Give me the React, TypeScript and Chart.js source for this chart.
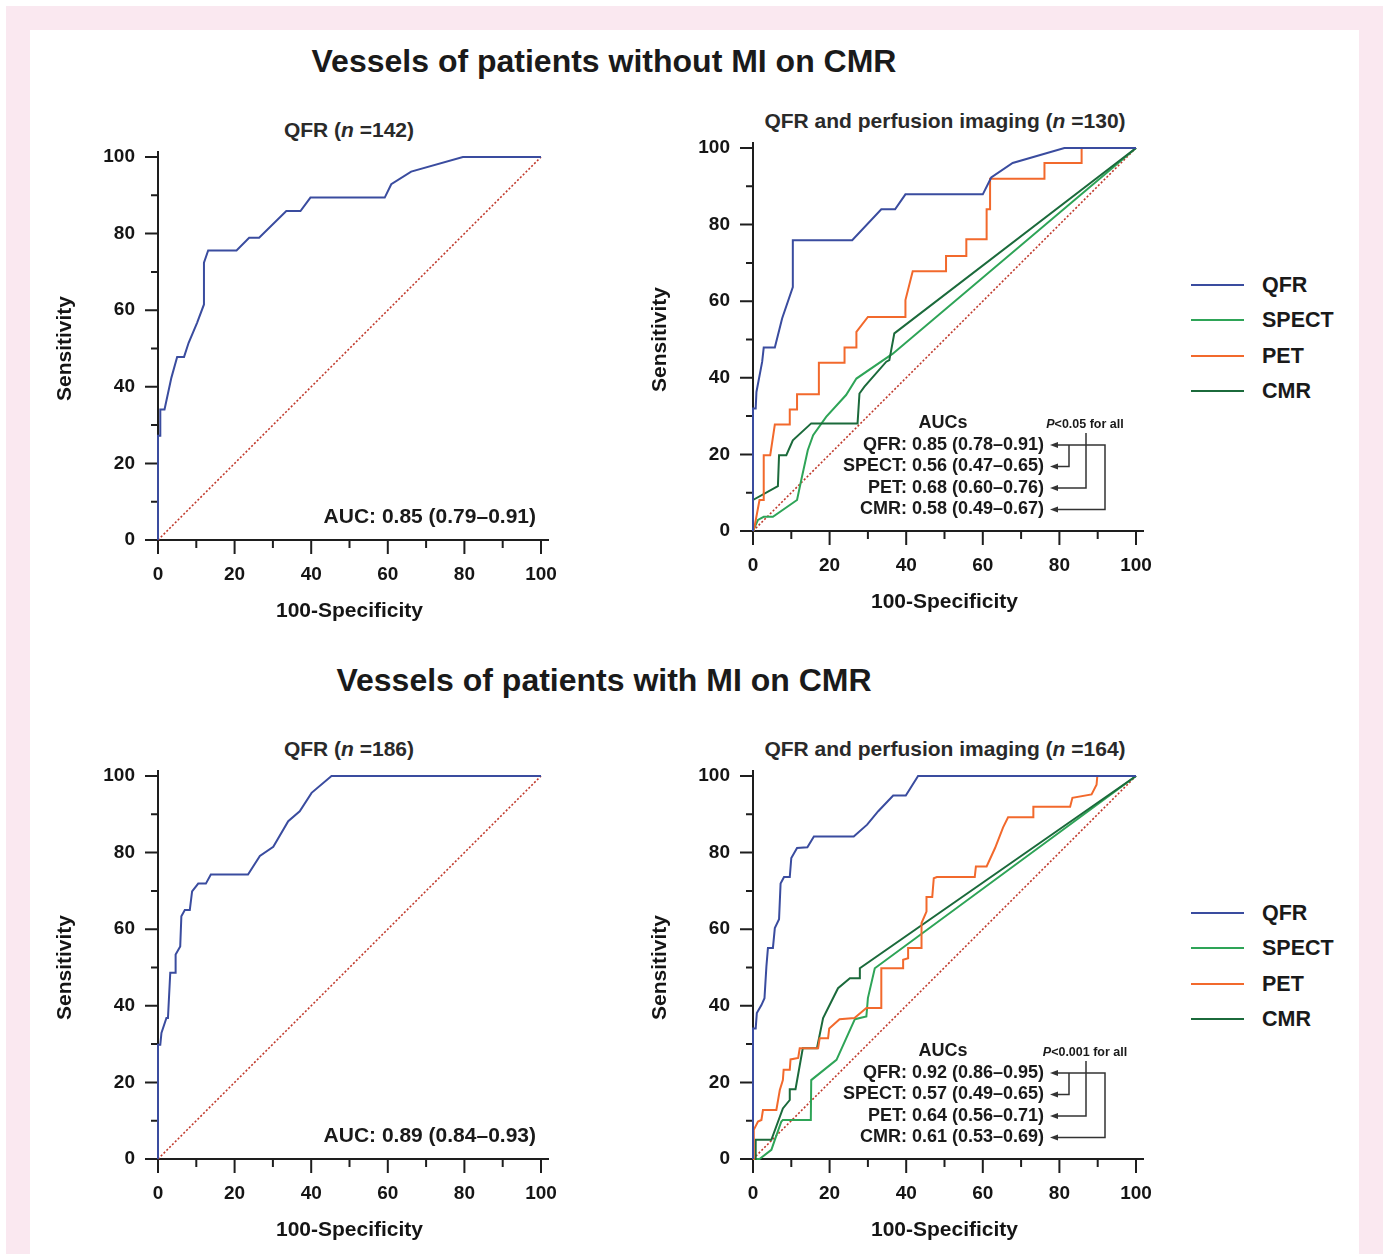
import React, { useEffect, useRef } from 'react';
import { Chart, registerables } from 'chart.js';

Chart.register(...registerables);

const FONT = '"Liberation Sans", Arial, Helvetica, sans-serif';

// ---------- data ----------
const tickValues = [0, 20, 40, 60, 80, 100];
const minorTickValues = [10, 30, 50, 70, 90];
const diagX = [0, 100];
const diagY = [0, 100];

// Panel A: without MI, QFR (n=142)
const qfrA_x = [0, 0, 0.6, 0.6, 1.7, 3.5, 5, 6.8, 8, 10.2, 12, 12, 13.1, 20.5, 23.8, 26.4, 33.5, 37.2, 39.8, 59.2, 60.9, 66.1, 79.6, 100];
const qfrA_y = [0, 27.2, 27.2, 34.1, 34.1, 42.4, 47.8, 47.8, 51.5, 56.7, 61.5, 72.4, 75.6, 75.6, 78.9, 78.9, 85.9, 85.9, 89.4, 89.4, 92.9, 96.2, 100, 100];

// Panel B: without MI, QFR and perfusion imaging (n=130)
const qfrB_x = [0, 0, 0.7, 0.9, 2.4, 2.8, 5.7, 7.6, 10.4, 10.4, 25.9, 33.5, 37.1, 39.8, 60, 62.2, 67.8, 81.3, 100];
const qfrB_y = [0, 32, 32, 36.3, 44.2, 47.9, 47.9, 55.5, 63.7, 75.9, 75.9, 84, 84, 87.9, 87.9, 92.3, 96.1, 100, 100];
const spectB_x = [0, 1.3, 2.8, 5.2, 11.5, 12.6, 14.3, 15.7, 19.1, 24.3, 27, 36.5, 100];
const spectB_y = [0, 2.9, 3.7, 3.7, 8.1, 13.3, 21.1, 25, 29.8, 35.5, 39.8, 46.3, 100];
const petB_x = [0, 0.4, 1.7, 2.8, 2.8, 4.5, 5.7, 9.6, 9.6, 11.5, 11.5, 17.2, 17.2, 23.9, 23.9, 27, 27, 30, 39.8, 39.8, 41.7, 50.4, 50.4, 55.7, 55.7, 61, 61, 61.9, 61.9, 76.1, 76.1, 85.8, 85.8, 100];
const petB_y = [0, 1.1, 8.1, 8.1, 19.8, 19.8, 27.8, 27.8, 31.7, 31.7, 35.7, 35.7, 43.9, 43.9, 47.9, 47.9, 52, 55.9, 55.9, 60.3, 67.8, 67.8, 71.8, 71.8, 76.2, 76.2, 84, 84, 92, 92, 96.1, 96.1, 100, 100];
const cmrB_x = [0, 0, 6.5, 6.8, 8.7, 10.4, 15.2, 27.3, 27.8, 29.1, 34.8, 35.6, 36.9, 100];
const cmrB_y = [0, 8.1, 11.7, 19.8, 19.8, 23.7, 28.1, 28.1, 35.9, 37.7, 44.2, 44.6, 51.6, 100];

// Panel C: with MI, QFR (n=186)
const qfrC_x = [0, 0, 0.6, 0.9, 2.2, 2.6, 3.2, 4.5, 4.6, 5.8, 6.1, 7, 8.3, 8.9, 10.5, 12.5, 13.8, 23.5, 26.6, 30.1, 34, 37, 40.1, 45.3, 100];
const qfrC_y = [0, 29.8, 29.8, 32.9, 36.8, 36.8, 48.6, 48.6, 53.4, 55.5, 63.4, 65, 65, 69.9, 71.9, 71.9, 74.3, 74.3, 79.1, 81.5, 88.2, 90.8, 95.6, 100, 100];

// Panel D: with MI, QFR and perfusion imaging (n=164)
const qfrD_x = [0, 0, 0.7, 1, 2.2, 3, 3.5, 3.9, 5.2, 5.7, 6.8, 7.2, 8.1, 9.6, 10, 11.5, 14.2, 15.9, 26.3, 29.8, 32.7, 36.6, 39.9, 43.1, 100];
const qfrD_y = [0, 34.1, 34.1, 38.1, 40.2, 42, 50.3, 55.1, 55.1, 60.3, 62.6, 71.9, 73.6, 73.6, 78.6, 81.2, 81.4, 84.2, 84.2, 87.3, 90.8, 94.9, 94.9, 100, 100];
const spectD_x = [0, 1.7, 4.8, 5.7, 7.4, 7.8, 15.1, 15.2, 21.8, 26.6, 29.6, 30, 31.8, 100];
const spectD_y = [0, 0, 2.4, 5, 9.8, 10.2, 10.2, 20.6, 25.9, 36.5, 37.2, 42, 49.8, 100];
const petD_x = [0, 0.2, 1.3, 2.2, 2.6, 6.1, 7, 7.8, 8, 9.6, 9.8, 11.8, 12.2, 17, 17.4, 19.6, 19.9, 22.6, 26.5, 29.6, 33.5, 33.5, 39.2, 39.2, 40.5, 40.5, 44, 44, 45.3, 45.3, 46.8, 47.2, 48, 57.9, 58.2, 61, 63.2, 65.3, 66.6, 73.2, 73.2, 82.8, 83.4, 88.4, 89.7, 89.9, 100];
const petD_y = [0, 7.6, 9.8, 10.2, 12.8, 12.8, 18, 20.6, 23.3, 23.3, 26, 26.4, 28.9, 28.9, 31.5, 31.5, 34.1, 36.5, 36.8, 39.4, 39.4, 49.8, 49.8, 52, 52.4, 55.1, 55.1, 61.6, 64.6, 68.4, 68.4, 73.3, 73.6, 73.6, 76.4, 76.4, 81.2, 86.6, 89.2, 89.2, 92, 92, 94.3, 95.2, 97.7, 100, 100];
const cmrD_x = [0, 0.7, 0.7, 4.8, 7.8, 9.6, 9.6, 11.1, 13, 16.7, 18.3, 22.2, 25.3, 27.7, 27.9, 100];
const cmrD_y = [0, 0, 5, 5, 13.2, 15.4, 18.2, 18.2, 28.9, 28.9, 36.8, 44.6, 47.2, 47.2, 49.8, 100];

const aucA = 'AUC: 0.85 (0.79–0.91)';
const aucC = 'AUC: 0.89 (0.84–0.93)';
const aucRowsB = ['QFR: 0.85 (0.78–0.91)', 'SPECT: 0.56 (0.47–0.65)', 'PET: 0.68 (0.60–0.76)', 'CMR: 0.58 (0.49–0.67)'];
const aucRowsD = ['QFR: 0.92 (0.86–0.95)', 'SPECT: 0.57 (0.49–0.65)', 'PET: 0.64 (0.56–0.71)', 'CMR: 0.61 (0.53–0.69)'];
const pTextB = '<0.05 for all';
const pTextD = '<0.001 for all';

const legendLabels = ['QFR', 'SPECT', 'PET', 'CMR'];
const COLORS = { QFR: '#3a4c9f', SPECT: '#2ea457', PET: '#f2692c', CMR: '#1b6a3b', diag: '#c0392b' };

// ---------- helpers ----------
const pts = (xs: number[], ys: number[]) => xs.map((x, i) => ({ x, y: ys[i] }));

const curve = (label: string, xs: number[], ys: number[]) => ({
  label,
  data: pts(xs, ys),
  showLine: true,
  borderColor: (COLORS as any)[label],
  borderWidth: 2,
  pointRadius: 0,
  tension: 0,
  fill: false,
  clip: false,
});

const diagonal = () => ({
  label: 'ref',
  data: pts(diagX, diagY),
  showLine: true,
  borderColor: COLORS.diag,
  borderWidth: 1.6,
  borderDash: [2, 2],
  pointRadius: 0,
  tension: 0,
  fill: false,
  clip: false,
});

const axesPlugin = {
  id: 'rocAxes',
  beforeDatasetsDraw(chart: any) {
    const { ctx, chartArea: a, scales } = chart;
    const x = scales.x;
    const y = scales.y;
    ctx.save();
    ctx.strokeStyle = '#1e1e1e';
    ctx.lineWidth = 2;
    ctx.beginPath();
    ctx.moveTo(a.left, a.top - 6);
    ctx.lineTo(a.left, a.bottom);
    ctx.moveTo(a.left, a.bottom);
    ctx.lineTo(a.right + 8, a.bottom);
    const all = [...tickValues.map((v) => [v, 1]), ...minorTickValues.map((v) => [v, 0])];
    all.forEach(([v, major]) => {
      const py = y.getPixelForValue(v);
      ctx.moveTo(a.left - (major ? 13 : 7), py);
      ctx.lineTo(a.left, py);
      const px = x.getPixelForValue(v);
      ctx.moveTo(px, a.bottom);
      ctx.lineTo(px, a.bottom + (major ? 14 : 8));
    });
    ctx.stroke();
    ctx.restore();
  },
};

const notesPlugin = {
  id: 'notes',
  afterDatasetsDraw(chart: any, _args: any, opts: any) {
    const { ctx, chartArea: a } = chart;
    ctx.save();
    ctx.fillStyle = '#1a1a1a';
    ctx.textBaseline = 'middle';
    if (opts.auc) {
      ctx.font = `bold 21px ${FONT}`;
      ctx.textAlign = 'right';
      ctx.fillText(opts.auc, a.right - 5, a.bottom - 23);
    }
    if (opts.rows) {
      ctx.font = `bold 18px ${FONT}`;
      ctx.textAlign = 'center';
      ctx.fillText('AUCs', a.left + 190, a.bottom - 108);
      ctx.textAlign = 'right';
      const rowY = [86, 64.5, 43, 21.5].map((d) => a.bottom - d);
      opts.rows.forEach((r: string, i: number) => ctx.fillText(r, a.right - 92, rowY[i]));

      // P text
      const cx = a.right - 51;
      const py = a.bottom - 106;
      ctx.font = `italic bold 12.5px ${FONT}`;
      const wP = ctx.measureText('P').width;
      ctx.font = `bold 12.5px ${FONT}`;
      const wR = ctx.measureText(opts.p).width;
      const sx = cx - (wP + wR) / 2;
      ctx.textAlign = 'left';
      ctx.font = `italic bold 12.5px ${FONT}`;
      ctx.fillText('P', sx, py);
      ctx.font = `bold 12.5px ${FONT}`;
      ctx.fillText(opts.p, sx + wP, py);

      // brackets
      const tip = a.right - 86;
      const v1 = a.right - 67;
      const v2 = a.right - 50;
      const v3 = a.right - 31;
      ctx.strokeStyle = '#333';
      ctx.lineWidth = 1.5;
      ctx.beginPath();
      ctx.moveTo(tip + 5, rowY[0]);
      ctx.lineTo(v3, rowY[0]);
      ctx.lineTo(v3, rowY[3]);
      ctx.lineTo(tip + 5, rowY[3]);
      ctx.moveTo(v1, rowY[0]);
      ctx.lineTo(v1, rowY[1]);
      ctx.lineTo(tip + 5, rowY[1]);
      ctx.moveTo(v2, a.bottom - 98);
      ctx.lineTo(v2, rowY[2]);
      ctx.lineTo(tip + 5, rowY[2]);
      ctx.stroke();
      ctx.fillStyle = '#333';
      rowY.forEach((yy) => {
        ctx.beginPath();
        ctx.moveTo(tip, yy);
        ctx.lineTo(tip + 8, yy - 3);
        ctx.lineTo(tip + 8, yy + 3);
        ctx.closePath();
        ctx.fill();
      });
    }
    ctx.restore();
  },
};

const tickFont = { family: FONT, size: 19, weight: 'bold' as const };
const titleFont = { family: FONT, size: 21, weight: 'bold' as const };

// chart box geometry (canvas pixels)
const PAD_TOP = 40;
const PAD_RIGHT = 45;
const Y_AXIS_W = 118;
const X_AXIS_H = 85;
const PLOT = 383;
const CANVAS_W = Y_AXIS_W + PLOT + PAD_RIGHT;
const CANVAS_H = PAD_TOP + PLOT + X_AXIS_H;

function RocChart({ left, plotTop, datasets, notes }: { left: number; plotTop: number; datasets: any[]; notes: any }) {
  const ref = useRef<HTMLCanvasElement>(null);
  useEffect(() => {
    if (!ref.current) return;
    const chart = new Chart(ref.current, {
      type: 'scatter',
      data: { datasets },
      options: {
        animation: false,
        responsive: false,
        maintainAspectRatio: false,
        layout: { padding: { top: PAD_TOP, right: PAD_RIGHT, left: 0, bottom: 0 } },
        plugins: {
          legend: { display: false },
          tooltip: { enabled: false },
          notes,
        } as any,
        scales: {
          x: {
            type: 'linear',
            min: 0,
            max: 100,
            afterFit: (s: any) => {
              s.height = X_AXIS_H;
            },
            afterBuildTicks: (s: any) => {
              s.ticks = tickValues.map((v) => ({ value: v }));
            },
            grid: { display: false, drawTicks: false },
            border: { display: false },
            ticks: { padding: 23, font: tickFont, color: '#151515', maxRotation: 0 },
            title: { display: true, text: '100-Specificity', font: titleFont, color: '#151515', padding: { top: 0, bottom: 1 } },
          },
          y: {
            type: 'linear',
            min: 0,
            max: 100,
            afterFit: (s: any) => {
              s.width = Y_AXIS_W;
            },
            afterBuildTicks: (s: any) => {
              s.ticks = tickValues.map((v) => ({ value: v }));
            },
            grid: { display: false, drawTicks: false },
            border: { display: false },
            ticks: { padding: 23, font: tickFont, color: '#151515' },
            title: { display: true, text: 'Sensitivity', font: titleFont, color: '#151515', padding: { top: 13, bottom: 0 } },
          },
        },
      } as any,
      plugins: [axesPlugin, notesPlugin],
    });
    return () => chart.destroy();
  }, []);
  return (
    <canvas
      ref={ref}
      width={CANVAS_W}
      height={CANVAS_H}
      style={{ position: 'absolute', left, top: plotTop - PAD_TOP, width: CANVAS_W, height: CANVAS_H }}
    />
  );
}

function Sub({ cx, cy, name, n }: { cx: number; cy: number; name: string; n: string }) {
  return (
    <div
      style={{
        position: 'absolute',
        left: cx - 250,
        top: cy - 12,
        width: 500,
        height: 24,
        lineHeight: '24px',
        textAlign: 'center',
        fontSize: 21,
        fontWeight: 'bold',
        color: '#2a2a2a',
        whiteSpace: 'nowrap',
      }}
    >
      {name} (<i>n</i> =<span>{n}</span>)
    </div>
  );
}

function Legend({ top }: { top: number }) {
  return (
    <>
      {legendLabels.map((lab, i) => (
        <React.Fragment key={lab}>
          <div
            style={{
              position: 'absolute',
              left: 1191,
              top: top + i * 35.3 - 1,
              width: 53,
              height: 2,
              background: (COLORS as any)[lab],
            }}
          />
          <div
            style={{
              position: 'absolute',
              left: 1262,
              top: top + i * 35.3 - 12,
              height: 24,
              lineHeight: '24px',
              fontSize: 21.5,
              fontWeight: 'bold',
              color: '#1a1a1a',
            }}
          >
            {lab}
          </div>
        </React.Fragment>
      ))}
    </>
  );
}

function Title({ cy, text }: { cy: number; text: string }) {
  return (
    <div
      style={{
        position: 'absolute',
        left: 204,
        top: cy - 19,
        width: 800,
        height: 38,
        lineHeight: '38px',
        textAlign: 'center',
        fontSize: 32,
        fontWeight: 'bold',
        color: '#1a1a1a',
        whiteSpace: 'nowrap',
      }}
    >
      {text}
    </div>
  );
}

export default function App() {
  const dsA = [curve('QFR', qfrA_x, qfrA_y), diagonal()];
  const dsB = [
    curve('QFR', qfrB_x, qfrB_y),
    curve('PET', petB_x, petB_y),
    curve('CMR', cmrB_x, cmrB_y),
    curve('SPECT', spectB_x, spectB_y),
    diagonal(),
  ];
  const dsC = [curve('QFR', qfrC_x, qfrC_y), diagonal()];
  const dsD = [
    curve('QFR', qfrD_x, qfrD_y),
    curve('PET', petD_x, petD_y),
    curve('CMR', cmrD_x, cmrD_y),
    curve('SPECT', spectD_x, spectD_y),
    diagonal(),
  ];
  return (
    <div
      style={{
        position: 'absolute',
        left: 0,
        top: 0,
        width: 1383,
        height: 1254,
        overflow: 'hidden',
        background: '#ffffff',
        fontFamily: FONT,
      }}
    >
      <div style={{ position: 'absolute', left: 6, top: 6, width: 1400, height: 1300, background: '#fae8f0' }} />
      <div style={{ position: 'absolute', left: 30, top: 30, width: 1329, height: 1300, background: '#ffffff' }} />

      <Title cy={61} text="Vessels of patients without MI on CMR" />
      <Title cy={680} text="Vessels of patients with MI on CMR" />

      <Sub cx={349} cy={130} name="QFR" n="142" />
      <Sub cx={945} cy={121} name="QFR and perfusion imaging" n="130" />
      <Sub cx={349} cy={749} name="QFR" n="186" />
      <Sub cx={945} cy={749} name="QFR and perfusion imaging" n="164" />

      <RocChart left={40} plotTop={157} datasets={dsA} notes={{ auc: aucA }} />
      <RocChart left={635} plotTop={148} datasets={dsB} notes={{ rows: aucRowsB, p: pTextB }} />
      <RocChart left={40} plotTop={776} datasets={dsC} notes={{ auc: aucC }} />
      <RocChart left={635} plotTop={776} datasets={dsD} notes={{ rows: aucRowsD, p: pTextD }} />

      <Legend top={285} />
      <Legend top={913} />
    </div>
  );
}
